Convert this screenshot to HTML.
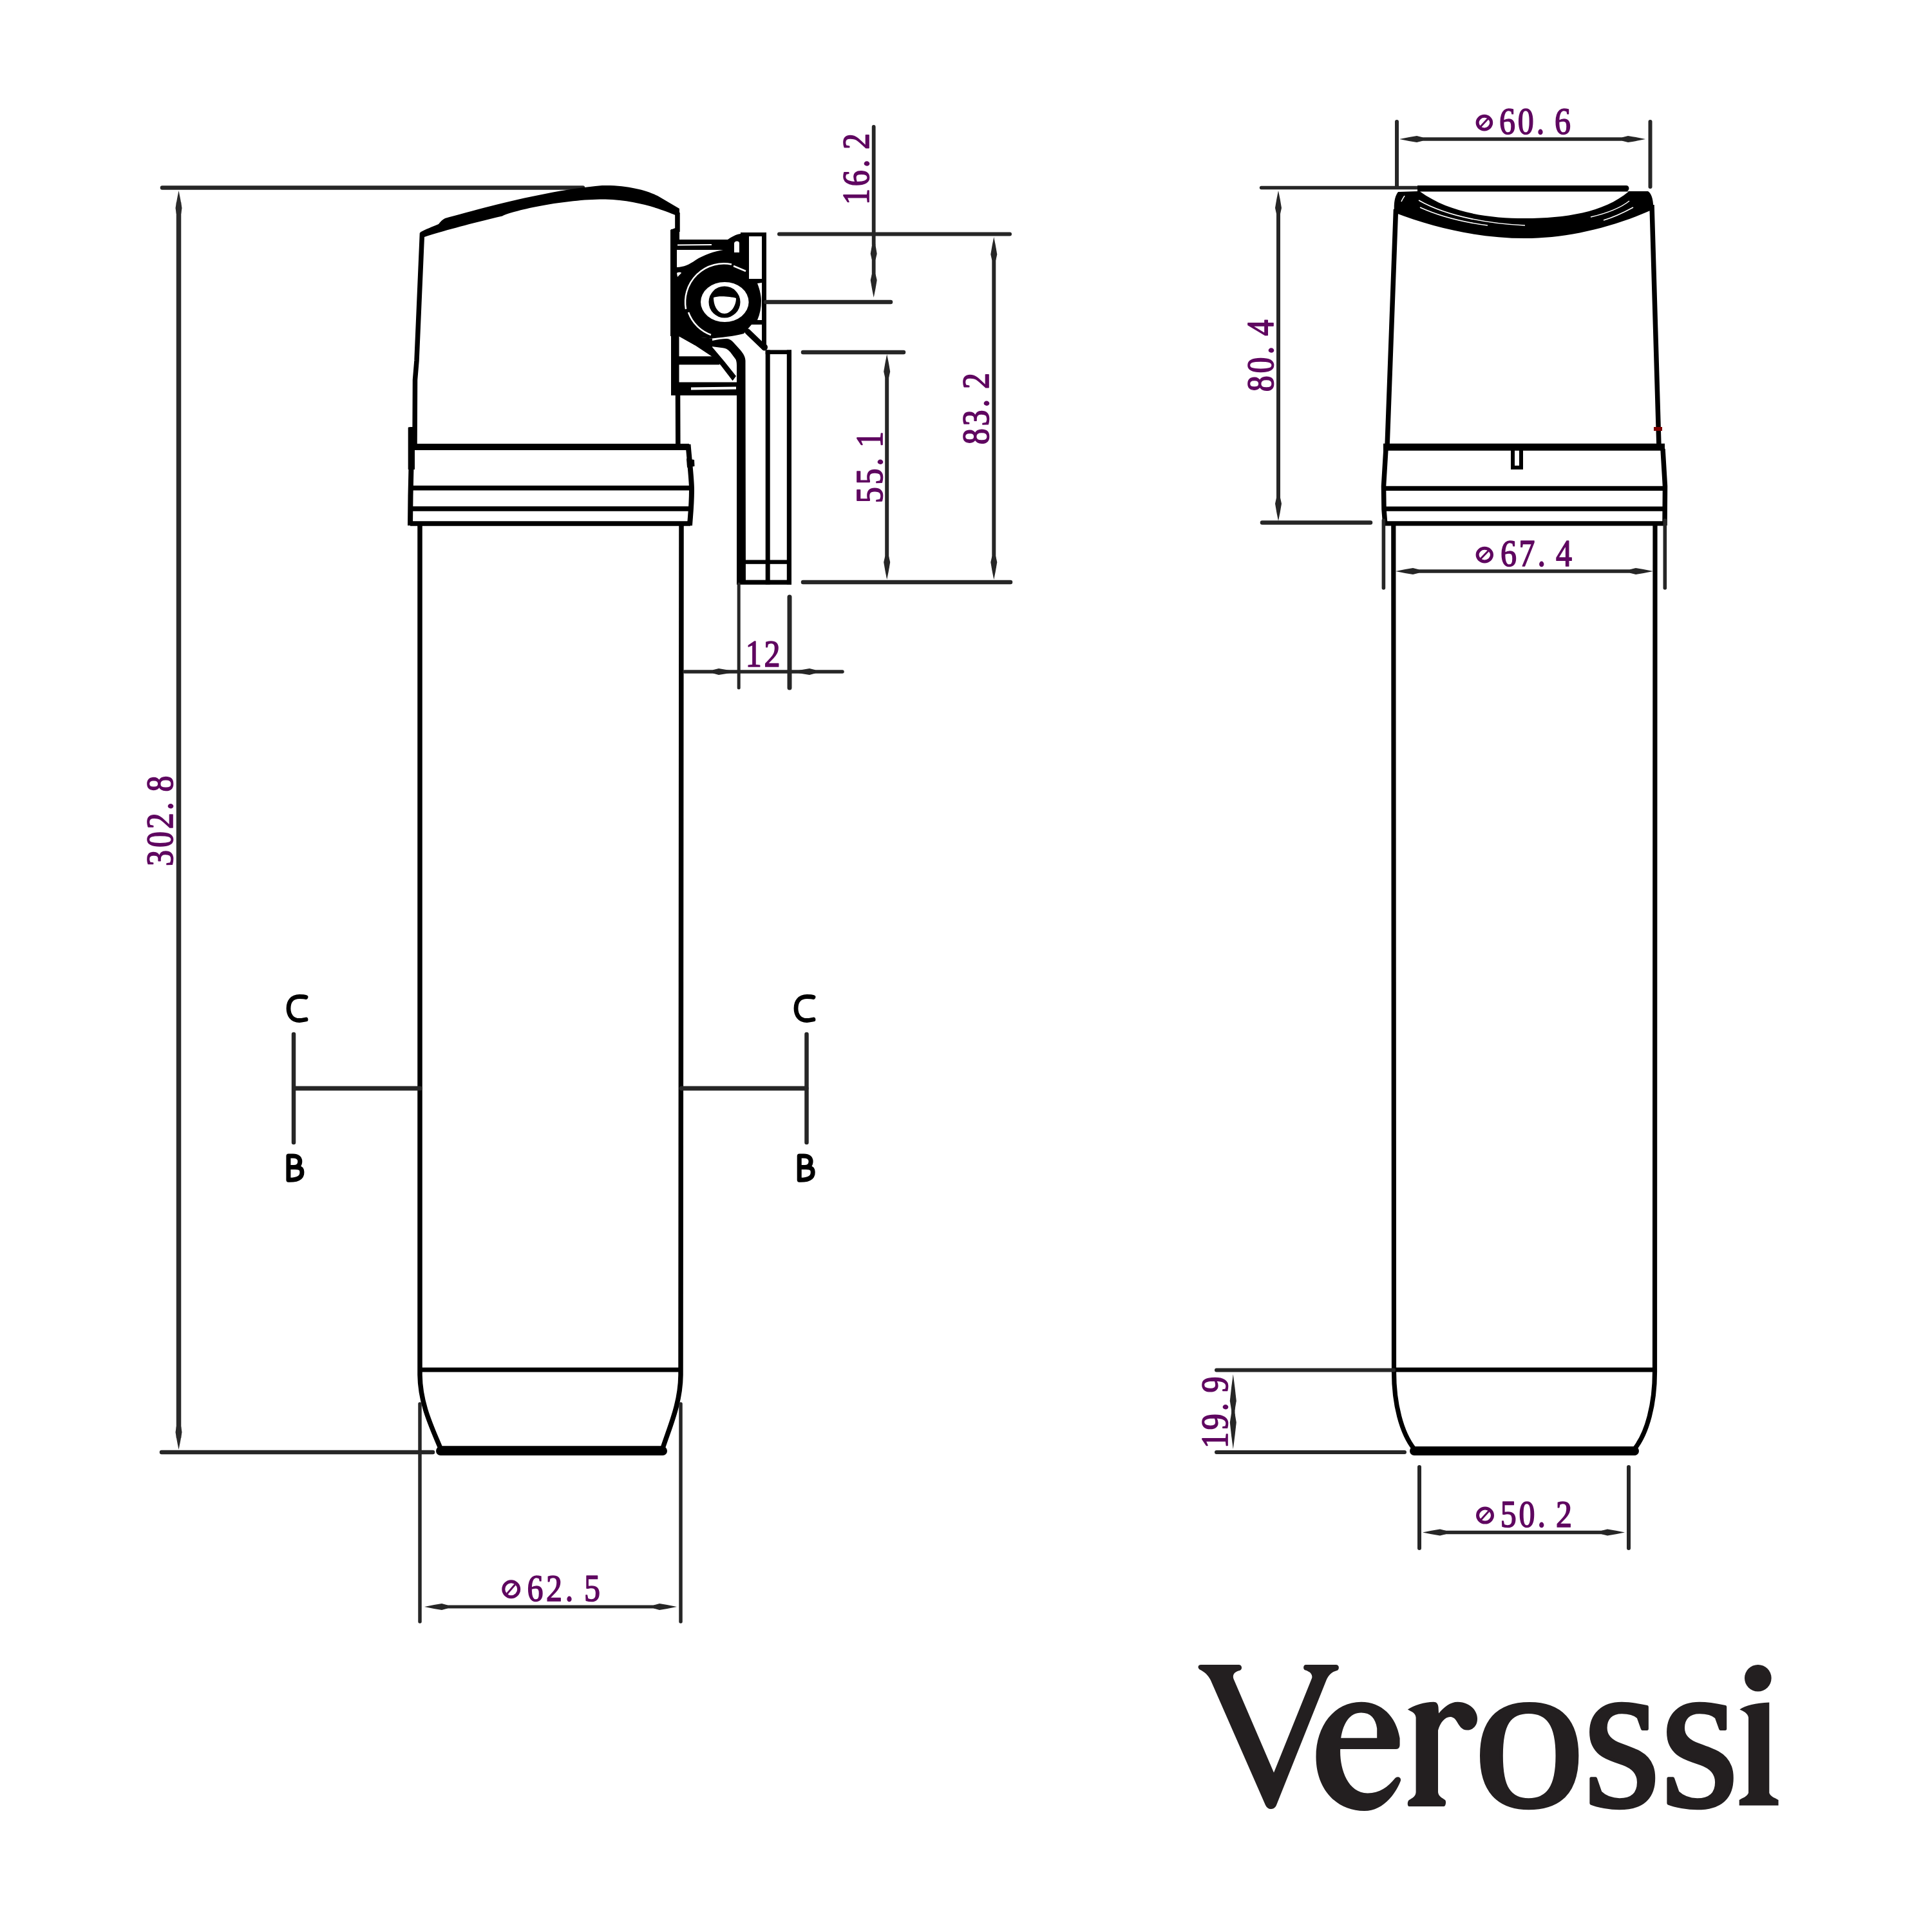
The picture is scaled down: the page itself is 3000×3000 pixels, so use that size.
<!DOCTYPE html>
<html><head><meta charset="utf-8"><style>
html,body{margin:0;padding:0;background:#fff;overflow:hidden;}
svg{display:block;}
</style></head><body>
<svg width="3000" height="3000" viewBox="0 0 3000 3000">
<rect width="3000" height="3000" fill="#fff"/>
<line x1="252" y1="291.6" x2="905" y2="291.6" stroke="#262626" stroke-width="6.5" stroke-linecap="round"/>
<line x1="277.5" y1="314.0" x2="277.5" y2="2233.0" stroke="#2a2a2a" stroke-width="7.5" stroke-linecap="butt"/>
<path d="M277.5,296.0 Q280.2,308.6 282.5,323.0 L281.2,332.0 L273.8,332.0 L272.5,323.0 Q274.8,308.6 277.5,296.0 Z" fill="#2a2a2a"/>
<path d="M277.5,2251.0 Q274.8,2238.4 272.5,2224.0 L273.8,2215.0 L281.2,2215.0 L282.5,2224.0 Q280.2,2238.4 277.5,2251.0 Z" fill="#2a2a2a"/>
<line x1="251" y1="2255" x2="672" y2="2255" stroke="#262626" stroke-width="6.5" stroke-linecap="round"/>
<g font-family="Liberation Serif" font-size="59.5" fill="#5f0760" stroke="#5f0760" stroke-width="1.7" stroke-linejoin="round"><text transform="translate(267.6,1332.5) rotate(-90) scale(0.84,1)" text-anchor="middle">3</text><text transform="translate(267.6,1303.6) rotate(-90) scale(0.84,1)" text-anchor="middle">0</text><text transform="translate(267.6,1274.7) rotate(-90) scale(0.84,1)" text-anchor="middle">2</text><text transform="translate(267.6,1251.8) rotate(-90) scale(0.84,1)" text-anchor="middle">.</text><text transform="translate(267.6,1216.9) rotate(-90) scale(0.84,1)" text-anchor="middle">8</text></g>
<path d="M652,361 C660,356 672,352 681,348 C684,344 687,341 691,339 C740,325 850,295 935,288 C975,287 1005,296 1021,304 L1055,324 L1055,372 L1041,372 L1041,357 L1048.6,354 L1048.6,334 C1030,326 990,311 940,309.6 C880,309 800,326 780,335.5 C740,345 690,358 659,368 Z" fill="#000"/>
<path d="M655.5,362 L647,560 L644.5,590 L644,690" stroke="#000" stroke-width="7.5" fill="none"/>
<path d="M633.7,664 C634,663 636,663 644,663 L644,729 L633.7,729 Z" fill="#000"/>
<path d="M638.5,725 L637.5,770 L637,816" stroke="#000" stroke-width="8" fill="none"/>
<path d="M1052,330 L1052,360 M1052.5,610 L1052.8,694" stroke="#000" stroke-width="7.5" fill="none"/>
<path d="M637,694 L1070,694" stroke="#000" stroke-width="10" fill="none"/>
<path d="M637,757.8 L1074,757.8 M637,790 L1074,790 M637,813 L1072,813" stroke="#000" stroke-width="7.5" fill="none"/>
<path d="M1068.5,690 C1071,720 1074,745 1074,760 C1074,785 1072,800 1071,816" stroke="#000" stroke-width="8" fill="none"/>
<path d="M1066,712 L1078,714 L1078.5,724 L1067,726 Z" fill="#000"/>
<path d="M652,813 L652,2135 C652.5,2180 670,2215 684,2249 L1029,2249 C1040,2215 1056.5,2180 1057,2135 L1058,813" stroke="#000" stroke-width="7.5" fill="none" stroke-linejoin="round"/>
<path d="M684,2253 L1029,2253" stroke="#000" stroke-width="14" fill="none" stroke-linecap="round"/>
<path d="M652,2127 L1057,2127" stroke="#000" stroke-width="7" fill="none"/>
<line x1="652" y1="2180" x2="652" y2="2518" stroke="#262626" stroke-width="5.5" stroke-linecap="round"/>
<line x1="1057" y1="2180" x2="1057" y2="2518" stroke="#262626" stroke-width="5.5" stroke-linecap="round"/>
<line x1="677.0" y1="2495.0" x2="1033.0" y2="2495.0" stroke="#262626" stroke-width="5" stroke-linecap="butt"/>
<path d="M659.0,2495.0 Q671.6,2492.2 686.0,2490.0 L695.0,2492.5 L695.0,2497.5 L686.0,2500.0 Q671.6,2497.8 659.0,2495.0 Z" fill="#262626"/>
<path d="M1051.0,2495.0 Q1038.4,2497.8 1024.0,2500.0 L1015.0,2497.5 L1015.0,2492.5 L1024.0,2490.0 Q1038.4,2492.2 1051.0,2495.0 Z" fill="#262626"/>
<ellipse cx="793.75" cy="2467.75" rx="11.950000000000045" ry="11.949999999999818" fill="none" stroke="#5f0760" stroke-width="5"/>
<line x1="787.1775" y1="2474.92" x2="799.725" y2="2460.58" stroke="#5f0760" stroke-width="3"/>
<g font-family="Liberation Serif" font-size="59.5" fill="#5f0760" stroke="#5f0760" stroke-width="1.7" stroke-linejoin="round"><text transform="translate(831.0,2486.0) scale(0.84,1)" text-anchor="middle">6</text><text transform="translate(860.5,2486.0) scale(0.84,1)" text-anchor="middle">2</text><text transform="translate(884.0,2486.0) scale(0.84,1)" text-anchor="middle">.</text><text transform="translate(919.5,2486.0) scale(0.84,1)" text-anchor="middle">5</text></g>
<line x1="456" y1="1606" x2="456" y2="1774" stroke="#262626" stroke-width="6.5" stroke-linecap="round"/>
<line x1="457" y1="1690" x2="652" y2="1690" stroke="#262626" stroke-width="7" stroke-linecap="round"/>
<line x1="1252.5" y1="1606" x2="1252.5" y2="1774" stroke="#262626" stroke-width="6.5" stroke-linecap="round"/>
<line x1="1058" y1="1690" x2="1252" y2="1690" stroke="#262626" stroke-width="7" stroke-linecap="round"/>
<path d="M475,1548.5 C472,1547.5 469,1547.5 465,1547.5 C453,1547.5 448,1556 448,1565.75 C448,1575.5 453,1584.5 465,1584.5 C469,1584.5 472,1583.5 475,1583" stroke="#000" stroke-width="6.8" fill="none" stroke-linecap="round" stroke-linejoin="round"/>
<path d="M1263,1548.5 C1260,1547.5 1257,1547.5 1253,1547.5 C1241,1547.5 1236,1556 1236,1565.75 C1236,1575.5 1241,1584.5 1253,1584.5 C1257,1584.5 1260,1583.5 1263,1583" stroke="#000" stroke-width="6.8" fill="none" stroke-linecap="round" stroke-linejoin="round"/>
<path transform="translate(0,0)" d="M447.9,1795 L447.9,1832.3 C455,1832.5 462,1831.5 466,1828 C469,1825 469.2,1820 468.5,1817 C467.5,1814 464,1812.6 458,1812.6 L447.9,1812.6 M447.9,1795 L455,1795 C462,1795 465.8,1798 465.8,1803.5 C465.8,1809 462,1812.6 456,1812.6" stroke="#000" stroke-width="7" fill="none" stroke-linecap="round" stroke-linejoin="round"/>
<path transform="translate(793.3,0)" d="M447.9,1795 L447.9,1832.3 C455,1832.5 462,1831.5 466,1828 C469,1825 469.2,1820 468.5,1817 C467.5,1814 464,1812.6 458,1812.6 L447.9,1812.6 M447.9,1795 L455,1795 C462,1795 465.8,1798 465.8,1803.5 C465.8,1809 462,1812.6 456,1812.6" stroke="#000" stroke-width="7" fill="none" stroke-linecap="round" stroke-linejoin="round"/>
<rect x="1042" y="356" width="12.5" height="258" fill="#000"/>
<path d="M1041,372 L1130,372 C1136,368 1142,364 1150,363 L1163,363 L1163,433 L1183,433 L1183,439 L1176,440 C1180,450 1182,460 1182,467 C1182,478 1180,488 1176,497 L1183,497 L1183,504 L1167,504 L1155,518 C1145,521 1130,523 1106,525.5 L1053,522 L1041,522 Z" fill="#000"/>
<path d="M1051,388 L1123,388 C1110,390 1092,396 1080,404 C1070,411 1062,414.5 1051,415 Z" fill="#fff"/>
<path d="M1052,380.5 L1105,380 " stroke="#fff" stroke-width="2.2"/>
<path d="M1140,392 L1140,378 C1140,374 1148,373 1148,378 L1148,392 Z" fill="#fff"/>
<path d="M1051,424 C1054,422 1058,423 1058,424 L1052,430 Z" fill="#fff"/>
<path d="M1065,480 A60,60 0 0 1 1136,410.5" stroke="#fff" stroke-width="2.5" fill="none"/>
<path d="M1069,485 A58,58 0 0 0 1104,520" stroke="#fff" stroke-width="2.5" fill="none"/>
<path d="M1139,413 L1158,421" stroke="#fff" stroke-width="2.5" fill="none"/>
<ellipse cx="1125.3" cy="469" rx="37.3" ry="31" fill="#fff"/>
<circle cx="1125" cy="469" r="24.5" fill="#000"/>
<path d="M1108,462 C1116,459 1134,460.5 1143,463 C1143,476 1134,487 1125,487 C1115,487 1108,476 1108,462 Z" fill="#fff"/>
<rect x="1183" y="361" width="7" height="176" fill="#000"/>
<path d="M1150,364 L1190,364" stroke="#000" stroke-width="6"/>
<path d="M1161,515 L1187,540" stroke="#000" stroke-width="9" stroke-linecap="round"/>
<path d="M1053.4,521.7 L1073.5,514 L1106,539 L1124.6,561 L1143,584 L1137.6,591.3 L1119,567 L1105,553.3 L1079,536 Z" fill="#000"/>
<path d="M1053,521 L1106,525.5 L1106,539 L1079,536 Z" fill="#000"/>
<rect x="1053" y="553.3" width="64" height="13" fill="#000"/>
<rect x="1053" y="593.5" width="91" height="20.5" fill="#000"/>
<path d="M1073,603.5 L1143,602.5" stroke="#fff" stroke-width="4"/>
<path d="M1106,529 C1115,527 1122,526 1127.8,526 C1132,526 1136,528 1138.7,531.5 L1149.6,543.5 C1154,549 1157,553 1157.5,560 L1158,907 L1144,907 L1144,567.4 C1144,562 1143,559 1142,557.6 L1134,546.7 C1130,542 1126,540.5 1122.4,540.2 L1105,538 Z" fill="#000"/>
<rect x="1188.7" y="543.5" width="40.3" height="6.5" fill="#000"/>
<rect x="1188.7" y="543.5" width="7" height="364" fill="#000"/>
<rect x="1221.8" y="543.5" width="7.2" height="364" fill="#000"/>
<rect x="1144" y="900.6" width="85" height="7.2" fill="#000"/>
<rect x="1157" y="869.5" width="65" height="6.3" fill="#000"/>
<circle cx="1187" cy="539" r="5" fill="#000"/>
<line x1="1147.2" y1="907" x2="1147.2" y2="1068" stroke="#262626" stroke-width="5" stroke-linecap="round"/>
<line x1="1226" y1="927" x2="1226" y2="1068" stroke="#262626" stroke-width="7" stroke-linecap="round"/>
<line x1="1063" y1="1042.9" x2="1308" y2="1042.9" stroke="#262626" stroke-width="5.5" stroke-linecap="round"/>
<path d="M1143.0,1042.9 Q1130.4,1045.7 1116.0,1047.9 L1107.0,1045.6 L1107.0,1040.2 L1116.0,1037.9 Q1130.4,1040.2 1143.0,1042.9 Z" fill="#262626"/>
<path d="M1230.0,1042.9 Q1242.6,1040.2 1257.0,1037.9 L1266.0,1040.2 L1266.0,1045.6 L1257.0,1047.9 Q1242.6,1045.7 1230.0,1042.9 Z" fill="#262626"/>
<g font-family="Liberation Serif" font-size="59.5" fill="#5f0760" stroke="#5f0760" stroke-width="1.7" stroke-linejoin="round"><text transform="translate(1170.3,1035.4) scale(0.84,1)" text-anchor="middle">1</text><text transform="translate(1199.0,1035.4) scale(0.84,1)" text-anchor="middle">2</text></g>
<line x1="1356.7" y1="197" x2="1356.7" y2="380" stroke="#262626" stroke-width="5.8" stroke-linecap="round"/>
<line x1="1210" y1="363.5" x2="1568" y2="363.5" stroke="#262626" stroke-width="6" stroke-linecap="round"/>
<line x1="1189" y1="469" x2="1383" y2="469" stroke="#262626" stroke-width="6.5" stroke-linecap="round"/>
<line x1="1356.7" y1="385.0" x2="1356.7" y2="444.0" stroke="#262626" stroke-width="5.8" stroke-linecap="butt"/>
<path d="M1356.7,367.0 Q1359.5,379.6 1361.7,394.0 L1359.6,403.0 L1353.8,403.0 L1351.7,394.0 Q1354.0,379.6 1356.7,367.0 Z" fill="#262626"/>
<path d="M1356.7,462.0 Q1354.0,449.4 1351.7,435.0 L1353.8,426.0 L1359.6,426.0 L1361.7,435.0 Q1359.5,449.4 1356.7,462.0 Z" fill="#262626"/>
<g font-family="Liberation Serif" font-size="59.5" fill="#5f0760" stroke="#5f0760" stroke-width="1.7" stroke-linejoin="round"><text transform="translate(1349.4,305.5) rotate(-90) scale(0.84,1)" text-anchor="middle">1</text><text transform="translate(1349.4,276.8) rotate(-90) scale(0.84,1)" text-anchor="middle">6</text><text transform="translate(1349.4,254.1) rotate(-90) scale(0.84,1)" text-anchor="middle">.</text><text transform="translate(1349.4,219.4) rotate(-90) scale(0.84,1)" text-anchor="middle">2</text></g>
<line x1="1543.3" y1="386.0" x2="1543.3" y2="882.0" stroke="#262626" stroke-width="6" stroke-linecap="butt"/>
<path d="M1543.3,368.0 Q1546.0,380.6 1548.3,395.0 L1546.3,404.0 L1540.3,404.0 L1538.3,395.0 Q1540.5,380.6 1543.3,368.0 Z" fill="#262626"/>
<path d="M1543.3,900.0 Q1540.5,887.4 1538.3,873.0 L1540.3,864.0 L1546.3,864.0 L1548.3,873.0 Q1546.0,887.4 1543.3,900.0 Z" fill="#262626"/>
<g font-family="Liberation Serif" font-size="59.5" fill="#5f0760" stroke="#5f0760" stroke-width="1.7" stroke-linejoin="round"><text transform="translate(1535.0,677.7) rotate(-90) scale(0.84,1)" text-anchor="middle">8</text><text transform="translate(1535.0,649.0) rotate(-90) scale(0.84,1)" text-anchor="middle">3</text><text transform="translate(1535.0,626.3) rotate(-90) scale(0.84,1)" text-anchor="middle">.</text><text transform="translate(1535.0,591.6) rotate(-90) scale(0.84,1)" text-anchor="middle">2</text></g>
<line x1="1247" y1="547" x2="1403" y2="547" stroke="#262626" stroke-width="6.5" stroke-linecap="round"/>
<line x1="1247" y1="904" x2="1569" y2="904" stroke="#262626" stroke-width="6.5" stroke-linecap="round"/>
<line x1="1377.2" y1="568.0" x2="1377.2" y2="882.0" stroke="#262626" stroke-width="6" stroke-linecap="butt"/>
<path d="M1377.2,550.0 Q1380.0,562.6 1382.2,577.0 L1380.2,586.0 L1374.2,586.0 L1372.2,577.0 Q1374.5,562.6 1377.2,550.0 Z" fill="#262626"/>
<path d="M1377.2,900.0 Q1374.5,887.4 1372.2,873.0 L1374.2,864.0 L1380.2,864.0 L1382.2,873.0 Q1380.0,887.4 1377.2,900.0 Z" fill="#262626"/>
<g font-family="Liberation Serif" font-size="59.5" fill="#5f0760" stroke="#5f0760" stroke-width="1.7" stroke-linejoin="round"><text transform="translate(1370.0,768.7) rotate(-90) scale(0.84,1)" text-anchor="middle">5</text><text transform="translate(1370.0,740.0) rotate(-90) scale(0.84,1)" text-anchor="middle">5</text><text transform="translate(1370.0,717.3) rotate(-90) scale(0.84,1)" text-anchor="middle">.</text><text transform="translate(1370.0,682.6) rotate(-90) scale(0.84,1)" text-anchor="middle">1</text></g>
<line x1="2169" y1="189" x2="2169" y2="290" stroke="#262626" stroke-width="6" stroke-linecap="round"/>
<line x1="2562.5" y1="189" x2="2562.5" y2="290" stroke="#262626" stroke-width="6" stroke-linecap="round"/>
<line x1="2191.0" y1="216.0" x2="2537.0" y2="216.0" stroke="#262626" stroke-width="5.5" stroke-linecap="butt"/>
<path d="M2173.0,216.0 Q2185.6,213.2 2200.0,211.0 L2209.0,213.2 L2209.0,218.8 L2200.0,221.0 Q2185.6,218.8 2173.0,216.0 Z" fill="#262626"/>
<path d="M2555.0,216.0 Q2542.4,218.8 2528.0,221.0 L2519.0,218.8 L2519.0,213.2 L2528.0,211.0 Q2542.4,213.2 2555.0,216.0 Z" fill="#262626"/>
<ellipse cx="2304.8999999999996" cy="190.60000000000002" rx="10.799999999999955" ry="10.299999999999997" fill="none" stroke="#5f0760" stroke-width="5"/>
<line x1="2298.9599999999996" y1="196.78000000000003" x2="2310.2999999999997" y2="184.42000000000002" stroke="#5f0760" stroke-width="3"/>
<g font-family="Liberation Serif" font-size="59.5" fill="#5f0760" stroke="#5f0760" stroke-width="1.7" stroke-linejoin="round"><text transform="translate(2340.5,207.6) scale(0.84,1)" text-anchor="middle">6</text><text transform="translate(2369.2,207.6) scale(0.84,1)" text-anchor="middle">0</text><text transform="translate(2391.9,207.6) scale(0.84,1)" text-anchor="middle">.</text><text transform="translate(2426.6,207.6) scale(0.84,1)" text-anchor="middle">6</text></g>
<line x1="1958.6" y1="291.5" x2="2202" y2="291.5" stroke="#262626" stroke-width="5.5" stroke-linecap="round"/>
<path d="M2201,288 L2525,288 C2530,288 2531,294 2527,297 L2559,297 C2564,300 2568,310 2567,325 C2500,355 2430,370 2368,370 C2300,370 2230,355 2165,330 C2164,315 2166,304 2171,298 L2201,297 Z" fill="#000"/>
<path d="M2205,297.5 C2250,330 2310,339 2368,339 C2430,339 2490,330 2529,297.5 Z" fill="#fff"/>
<path d="M2203,311 C2250,338 2320,348 2368,350 M2205,322 C2240,338 2280,346 2310,350 M2470,337 C2500,330 2520,320 2530,312 M2490,342 C2510,336 2525,328 2536,322 M2176,313 C2178,308 2180,306 2181,304" stroke="#fff" stroke-width="1.6" fill="none"/>
<path d="M2167.5,325 L2154,694 M2565,318 L2576,694" stroke="#000" stroke-width="7.5" fill="none"/>
<rect x="2568" y="663" width="13" height="6" fill="#7a0000"/>
<path d="M2148,694.2 L2585,694.2" stroke="#000" stroke-width="11" fill="none"/>
<path d="M2148,758.3 L2586,758.3 M2148,790.2 L2586,790.2 M2148,812.8 L2586,812.8" stroke="#000" stroke-width="7.2" fill="none"/>
<path d="M2152,697 L2148.5,755 L2149,791 L2151,816 M2582,697 L2585.5,755 L2585,816" stroke="#000" stroke-width="7.5" fill="none"/>
<path d="M2349,699 L2349,726 L2362,726 L2362,699" stroke="#000" stroke-width="6" fill="none"/>
<path d="M2163.8,813 L2164.5,2130 C2164.5,2180 2176,2225 2196,2250 L2538,2250 C2558,2225 2569.5,2180 2569.5,2130 L2570,813" stroke="#000" stroke-width="7.2" fill="none" stroke-linejoin="round"/>
<path d="M2196,2253 L2538,2253" stroke="#000" stroke-width="14" fill="none" stroke-linecap="round"/>
<path d="M2164,2127 L2570,2127" stroke="#000" stroke-width="7" fill="none"/>
<line x1="2148.4" y1="808" x2="2148.4" y2="913" stroke="#262626" stroke-width="5.6" stroke-linecap="round"/>
<line x1="2585.3" y1="808" x2="2585.3" y2="913" stroke="#262626" stroke-width="5.6" stroke-linecap="round"/>
<line x1="2185.0" y1="887.0" x2="2549.0" y2="887.0" stroke="#262626" stroke-width="5.5" stroke-linecap="butt"/>
<path d="M2167.0,887.0 Q2179.6,884.2 2194.0,882.0 L2203.0,884.2 L2203.0,889.8 L2194.0,892.0 Q2179.6,889.8 2167.0,887.0 Z" fill="#262626"/>
<path d="M2567.0,887.0 Q2554.4,889.8 2540.0,892.0 L2531.0,889.8 L2531.0,884.2 L2540.0,882.0 Q2554.4,884.2 2567.0,887.0 Z" fill="#262626"/>
<ellipse cx="2305.3" cy="861.5999999999999" rx="11.200000000000045" ry="10.300000000000011" fill="none" stroke="#5f0760" stroke-width="5"/>
<line x1="2299.1400000000003" y1="867.78" x2="2310.9" y2="855.4199999999998" stroke="#5f0760" stroke-width="3"/>
<g font-family="Liberation Serif" font-size="59.5" fill="#5f0760" stroke="#5f0760" stroke-width="1.7" stroke-linejoin="round"><text transform="translate(2342.4,879.0) scale(0.84,1)" text-anchor="middle">6</text><text transform="translate(2371.1,879.0) scale(0.84,1)" text-anchor="middle">7</text><text transform="translate(2393.8,879.0) scale(0.84,1)" text-anchor="middle">.</text><text transform="translate(2428.5,879.0) scale(0.84,1)" text-anchor="middle">4</text></g>
<line x1="1985.0" y1="314.0" x2="1985.0" y2="791.0" stroke="#262626" stroke-width="6" stroke-linecap="butt"/>
<path d="M1985.0,296.0 Q1987.8,308.6 1990.0,323.0 L1988.0,332.0 L1982.0,332.0 L1980.0,323.0 Q1982.2,308.6 1985.0,296.0 Z" fill="#262626"/>
<path d="M1985.0,809.0 Q1982.2,796.4 1980.0,782.0 L1982.0,773.0 L1988.0,773.0 L1990.0,782.0 Q1987.8,796.4 1985.0,809.0 Z" fill="#262626"/>
<line x1="1960" y1="811.5" x2="2128" y2="811.5" stroke="#262626" stroke-width="6.5" stroke-linecap="round"/>
<g font-family="Liberation Serif" font-size="59.5" fill="#5f0760" stroke="#5f0760" stroke-width="1.7" stroke-linejoin="round"><text transform="translate(1976.8,595.8) rotate(-90) scale(0.84,1)" text-anchor="middle">8</text><text transform="translate(1976.8,566.9) rotate(-90) scale(0.84,1)" text-anchor="middle">0</text><text transform="translate(1976.8,544.0) rotate(-90) scale(0.84,1)" text-anchor="middle">.</text><text transform="translate(1976.8,509.1) rotate(-90) scale(0.84,1)" text-anchor="middle">4</text></g>
<line x1="1889" y1="2127.6" x2="2164" y2="2127.6" stroke="#262626" stroke-width="6" stroke-linecap="round"/>
<line x1="1889" y1="2255" x2="2181" y2="2255" stroke="#262626" stroke-width="6" stroke-linecap="round"/>
<line x1="1914.8" y1="2161.5" x2="1914.8" y2="2222.5" stroke="#262626" stroke-width="5.5" stroke-linecap="butt"/>
<path d="M1914.8,2134.0 Q1917.5,2153.2 1919.8,2175.2 L1917.5,2189.0 L1912.0,2189.0 L1909.8,2175.2 Q1912.0,2153.2 1914.8,2134.0 Z" fill="#262626"/>
<path d="M1914.8,2250.0 Q1912.0,2230.8 1909.8,2208.8 L1912.0,2195.0 L1917.5,2195.0 L1919.8,2208.8 Q1917.5,2230.8 1914.8,2250.0 Z" fill="#262626"/>
<g font-family="Liberation Serif" font-size="59.5" fill="#5f0760" stroke="#5f0760" stroke-width="1.7" stroke-linejoin="round"><text transform="translate(1905.8,2236.6) rotate(-90) scale(0.84,1)" text-anchor="middle">1</text><text transform="translate(1905.8,2207.7) rotate(-90) scale(0.84,1)" text-anchor="middle">9</text><text transform="translate(1905.8,2184.8) rotate(-90) scale(0.84,1)" text-anchor="middle">.</text><text transform="translate(1905.8,2149.9) rotate(-90) scale(0.84,1)" text-anchor="middle">9</text></g>
<line x1="2204" y1="2278" x2="2204" y2="2404" stroke="#262626" stroke-width="6" stroke-linecap="round"/>
<line x1="2529" y1="2278" x2="2529" y2="2404" stroke="#262626" stroke-width="6" stroke-linecap="round"/>
<line x1="2227.0" y1="2379.4" x2="2505.0" y2="2379.4" stroke="#262626" stroke-width="5.5" stroke-linecap="butt"/>
<path d="M2209.0,2379.4 Q2221.6,2376.7 2236.0,2374.4 L2245.0,2376.7 L2245.0,2382.2 L2236.0,2384.4 Q2221.6,2382.2 2209.0,2379.4 Z" fill="#262626"/>
<path d="M2523.0,2379.4 Q2510.4,2382.2 2496.0,2384.4 L2487.0,2382.2 L2487.0,2376.7 L2496.0,2374.4 Q2510.4,2376.7 2523.0,2379.4 Z" fill="#262626"/>
<ellipse cx="2306.0" cy="2353.1" rx="11.5" ry="11.0" fill="none" stroke="#5f0760" stroke-width="5"/>
<line x1="2299.675" y1="2359.7" x2="2311.75" y2="2346.5" stroke="#5f0760" stroke-width="3"/>
<g font-family="Liberation Serif" font-size="59.5" fill="#5f0760" stroke="#5f0760" stroke-width="1.7" stroke-linejoin="round"><text transform="translate(2342.3,2370.8) scale(0.84,1)" text-anchor="middle">5</text><text transform="translate(2371.0,2370.8) scale(0.84,1)" text-anchor="middle">0</text><text transform="translate(2393.7,2370.8) scale(0.84,1)" text-anchor="middle">.</text><text transform="translate(2428.4,2370.8) scale(0.84,1)" text-anchor="middle">2</text></g>
<g font-family="Liberation Serif" font-size="100" fill="#231f20" stroke="#231f20" stroke-linejoin="round"><text transform="translate(2287.20,2804.46) scale(3.4988,3.3750)" stroke-width="1.45">o</text><text transform="translate(2457.71,2804.46) scale(3.1190,3.3750)" stroke-width="1.54">s</text><text transform="translate(2577.51,2804.46) scale(3.1672,3.3750)" stroke-width="1.53">s</text></g>
<path d="M2701.3,2654.5 C2710,2648 2726,2644.5 2747.3,2643.5 L2747.3,2784 C2749,2790 2757,2792 2761.5,2795 L2761.5,2803.5 L2700.7,2803.5 L2700.7,2795 C2705,2792 2713,2790 2715,2784 L2715,2667 C2714,2660 2707,2657 2701.3,2654.5 Z" fill="#231f20"/>
<path d="M1865,2584.9 L1924,2584.9 C1929,2584.9 1929.5,2593 1925,2594 C1918,2595.5 1913,2600 1915.5,2607 L1978,2752.4 L2037,2606 C2039,2600 2033,2595 2027,2593.5 C2023,2592.5 2023,2584.9 2028,2584.9 L2075,2584.9 C2080,2584.9 2080,2593 2076,2594 C2068,2596 2063,2601 2059.6,2608.8 L1982,2803 C1980,2808 1976,2809 1973,2809 C1970,2809 1967,2807 1965,2803 L1879.8,2608.8 C1876,2601 1870,2596 1864,2593 C1859,2590.5 1859.5,2584.9 1865,2584.9 Z" fill="#231f20"/>
<path fill-rule="evenodd" d="M2113.7,2642.8 C2145,2642.8 2168,2665 2173.6,2699 L2173.6,2709 C2173.6,2713 2172,2716 2168,2716 L2081.2,2716 C2080,2745 2092,2784 2123.5,2784.4 C2142,2784.5 2155,2775 2166,2761.5 C2170,2757 2177,2760 2174.6,2766 C2165,2790 2145,2812 2118.6,2812 C2075,2812 2043.5,2778 2043.5,2728 C2043.5,2680 2072,2642.8 2113.7,2642.8 Z M2082.2,2698.8 L2138.2,2698.8 L2138.2,2684 C2136,2668 2128,2659.5 2113.7,2659.5 C2096,2659.5 2086,2675 2082.2,2698.8 Z" fill="#231f20"/>
<path d="M2185.8,2654.6 C2195,2648 2212,2643 2226,2642.8 C2231,2642.8 2233,2646 2233.5,2651 L2234,2660.5 C2242,2651 2252,2642.8 2263.5,2642.8 C2281,2642.8 2294,2655 2294,2669 C2294,2680 2287,2686.5 2278,2686.5 C2270,2686.5 2266,2680 2262,2673 C2259,2668 2256,2666 2251.7,2666 C2244,2666 2236,2675 2233,2687 L2233,2783 C2234,2790 2240,2792 2244,2795 C2246,2797 2245,2805 2242,2805 L2188,2805 C2185,2805 2185,2797 2188,2795 C2193,2792 2198,2790 2198.6,2783 L2198.6,2667 C2198,2660 2192,2658 2185.8,2654.6 Z" fill="#231f20"/>
<circle cx="2729.8" cy="2605.8" r="20.8" fill="#231f20"/>
</svg>
</body></html>
